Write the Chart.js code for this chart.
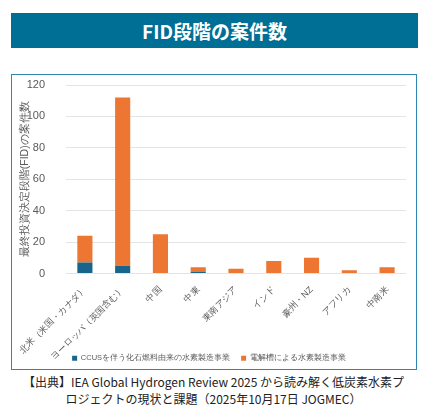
<!DOCTYPE html>
<html>
<head>
<meta charset="utf-8">
<script src="https://cdn.jsdelivr.net/npm/chart.js@4.4.1/dist/chart.umd.min.js"></script>
<style>
  body { margin: 0; width: 427px; height: 411px; background: #fff; position: relative; font-family: "Noto Sans CJK JP", "Noto Sans", sans-serif; overflow: hidden; }
  #banner { position: absolute; left: 11px; top: 13px; width: 407px; height: 35px; background: #006f96; color: #fff; font-weight: bold; font-size: 19px; line-height: 35px; text-align: center; }
  #box { position: absolute; left: 11px; top: 74px; width: 404px; height: 294px; border: 1.5px solid #2f86b0; }
  #wrap { position: absolute; left: 0; top: 0; width: 404px; height: 297px; }
  #source { position: absolute; left: 0; top: 373px; width: 427px; text-align: center; font-size: 12px; line-height: 17px; color: #222; }
</style>
</head>
<body>
<div id="banner">FID段階の案件数</div>
<div id="box"><div id="wrap"><canvas id="chartCanvas"></canvas></div></div>
<div id="source">【出典】IEA Global Hydrogen Review 2025 から読み解く低炭素水素プ<br>ロジェクトの現状と課題（2025年10月17日 JOGMEC）</div>
<script>
const regions = ["北米（米国・カナダ）", "ヨーロッパ（英国含む）", "中国", "中東", "東南アジア", "インド", "豪州・NZ", "アフリカ", "中南米"];
const ccusProjects = [7, 5, 0, 1, 0, 0, 0, 0, 0];
const electrolysisProjects = [17, 107, 25, 3, 3, 8, 10, 2, 4];
const yTicks = [0, 20, 40, 60, 80, 100, 120];

const grey = "#595959";

// rotated x labels are clipped to the x scale box, let them run into the legend area
const unclipLabels = {
  id: "unclipLabels",
  afterLayout(chart) { chart.scales.x.bottom = chart.height; }
};

function renderChart() {
  const ctx = document.getElementById("chartCanvas").getContext("2d");
  new Chart(ctx, {
    type: "bar",
    data: {
      labels: regions,
      datasets: [
        { label: "CCUSを伴う化石燃料由来の水素製造事業", data: ccusProjects, backgroundColor: "#17658a" },
        { label: "電解槽による水素製造事業", data: electrolysisProjects, backgroundColor: "#ec7632" }
      ]
    },
    options: {
      responsive: true,
      maintainAspectRatio: false,
      animation: false,
      layout: { padding: { top: 10, right: 10, left: 0, bottom: 0 } },
      datasets: { bar: { categoryPercentage: 1, barPercentage: 0.4 } },
      plugins: {
        legend: {
          position: "bottom",
          labels: { font: { size: 7.5 }, color: grey, boxWidth: 5, boxHeight: 5, padding: 11 }
        },
        tooltip: { enabled: false }
      },
      scales: {
        x: {
          stacked: true,
          grid: { display: false },
          border: { display: false },
          ticks: { color: grey, font: { size: 9 }, minRotation: 45, maxRotation: 45, autoSkip: false },
          afterFit: s => { s.height = 70; s.paddingLeft = 0; s.paddingRight = 0; }
        },
        y: {
          stacked: true,
          min: 0,
          max: 120,
          afterBuildTicks: s => { s.ticks = yTicks.map(v => ({ value: v })); },
          grid: { color: "#e4e4e4", drawTicks: false },
          border: { display: false },
          ticks: { color: grey, font: { size: 11 }, padding: 21 },
          title: { display: true, text: "最終投資決定段階(FID)の案件数", color: grey, font: { size: 10.5 }, padding: { top: 7, bottom: 0 } },
          afterFit: s => { s.width = 54; s.paddingTop = 0; s.paddingBottom = 0; }
        }
      }
    },
    plugins: [unclipLabels]
  });
}

window.onload = renderChart;
</script>
</body>
</html>
